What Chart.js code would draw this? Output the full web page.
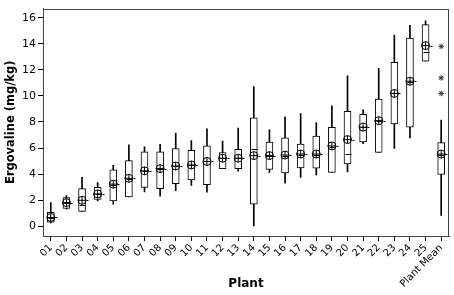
<!DOCTYPE html>
<html>
<head>
<meta charset="utf-8">
<script src="https://cdn.jsdelivr.net/npm/chart.js@4"></script>
<style>
    html, body { margin: 0; padding: 0; background: #fff; }
    #wrap { width: 454px; height: 295px; }
</style>
</head>
<body>
<div id="wrap"><canvas id="ergoChart"></canvas></div>
<script>
// Dados
const plants = ['01', '02', '03', '04', '05', '06', '07', '08', '09', '10', '11', '12', '13',
    '14', '15', '16', '17', '18', '19', '20', '21', '22', '23', '24', '25', 'Plant Mean'];
const whiskerLow = [0.25, 1.3, 1.14, 1.94, 1.69, 2.24, 2.63, 2.31, 2.73, 3.13, 2.61, 4.42, 4.22,
    0.02, 4.12, 3.30, 3.74, 3.93, 4.12, 4.17, 6.33, 5.66, 5.98, 6.78, 12.67, 0.82];
const whiskerHigh = [1.81, 2.36, 3.75, 3.35, 4.67, 6.24, 6.09, 6.28, 7.15, 6.58, 7.47, 6.53, 7.53,
    10.71, 7.40, 8.40, 8.64, 7.96, 9.24, 11.55, 8.94, 12.12, 14.66, 15.42, 15.77, 8.14];
const q1 = [0.32, 1.37, 1.14, 2.06, 1.94, 2.24, 2.98, 2.88, 3.26, 3.55, 3.18, 4.42, 4.42,
    1.69, 4.35, 4.10, 4.48, 4.45, 4.12, 4.79, 6.46, 5.66, 7.85, 7.60, 12.67, 3.97];
const q3 = [1.07, 2.19, 2.88, 2.98, 4.32, 5.04, 5.71, 5.71, 5.96, 5.83, 6.16, 5.66, 5.91,
    8.32, 6.46, 6.78, 6.30, 6.91, 7.58, 8.82, 8.59, 9.76, 12.57, 14.43, 15.47, 6.41];
const medians = [0.62, 1.75, 1.6, 2.45, 3.2, 3.6, 4.2, 4.4, 4.6, 4.7, 5.0, 5.2, 5.2,
    5.9, 5.4, 5.4, 5.5, 5.5, 6.1, 5.54, 7.6, 8.1, 10.2, 11.1, 13.36, 5.5];
const means = [0.67, 1.81, 1.99, 2.48, 3.23, 3.68, 4.25, 4.42, 4.62, 4.70, 4.97, 5.22, 5.22,
    5.42, 5.42, 5.46, 5.54, 5.54, 6.16, 6.65, 7.60, 8.10, 10.19, 11.13, 13.86, 5.54];
const outliers = [13.8, 11.38, 10.19];
const yTicks = [0, 2, 4, 6, 8, 10, 12, 14, 16];

Chart.defaults.font.family = '"DejaVu Sans", sans-serif';
Chart.defaults.color = '#000';

// Medianas, moldura e traço do símbolo de média
const boxExtras = {
    id: 'boxExtras',
    afterDatasetsDraw(chart) {
        const ctx = chart.ctx;
        const x = chart.scales.x;
        const y = chart.scales.y;
        const area = chart.chartArea;
        ctx.save();
        ctx.strokeStyle = '#000';
        ctx.lineWidth = 1;
        plants.forEach(function(p, i) {
            const cx = Math.round(x.getPixelForValue(i)) + 0.5;
            const my = Math.round(y.getPixelForValue(medians[i])) + 0.5;
            ctx.beginPath();
            ctx.moveTo(cx - 3, my);
            ctx.lineTo(cx + 3, my);
            ctx.stroke();
            const ay = Math.round(y.getPixelForValue(means[i])) + 0.5;
            ctx.beginPath();
            ctx.moveTo(cx + 4, ay);
            ctx.lineTo(cx + 6, ay);
            ctx.stroke();
        });
        ctx.strokeStyle = '#444';
        ctx.strokeRect(Math.round(area.left) + 0.5, Math.round(area.top) + 0.5,
            Math.round(area.right - area.left) - 1, Math.round(area.bottom - area.top));
        ctx.restore();
    }
};

new Chart(document.getElementById('ergoChart').getContext('2d'), {
    type: 'bar',
    data: {
        labels: plants,
        datasets: [{
            label: 'mean',
            type: 'line',
            data: means,
            showLine: false,
            pointStyle: 'circle',
            pointRadius: 4,
            pointBorderWidth: 1,
            pointBorderColor: '#000',
            pointBackgroundColor: 'rgba(0,0,0,0)',
            order: 0
        }, {
            label: 'meanCross',
            type: 'line',
            data: means,
            showLine: false,
            pointStyle: 'cross',
            pointRadius: 4,
            pointBorderWidth: 1,
            pointBorderColor: '#000',
            order: 0
        }, {
            label: 'outliers',
            type: 'line',
            data: outliers.map(v => ({ x: 'Plant Mean', y: v })),
            showLine: false,
            pointStyle: 'star',
            pointRadius: 2.8,
            pointBorderWidth: 1,
            pointBorderColor: '#333',
            order: 0
        }, {
            label: 'box',
            data: q1.map((v, i) => [v, q3[i]]),
            backgroundColor: '#fff',
            borderColor: '#000',
            borderWidth: 1,
            borderSkipped: false,
            barThickness: 7,
            grouped: false,
            order: 1
        }, {
            label: 'whisker',
            data: whiskerLow.map((v, i) => [v, whiskerHigh[i]]),
            backgroundColor: '#000',
            borderWidth: 0,
            barThickness: 1,
            grouped: false,
            order: 2
        }]
    },
    options: {
        responsive: true,
        maintainAspectRatio: false,
        animation: false,
        layout: { padding: { left: 0, top: 2, right: 2, bottom: 0 } },
        plugins: {
            legend: { display: false },
            tooltip: { enabled: false }
        },
        scales: {
            x: {
                type: 'category',
                offset: true,
                grid: { offset: false, drawOnChartArea: false, tickLength: 5, color: '#000' },
                border: { color: '#444' },
                ticks: { font: { size: 10 }, maxRotation: 45, minRotation: 45, padding: 1, autoSkip: false },
                title: {
                    display: true,
                    text: 'Plant',
                    font: { size: 12, weight: 'bold' },
                    padding: { top: 0, bottom: 4 }
                },
                afterFit: function(scale) { scale.height = 59; }
            },
            y: {
                min: -0.75,
                max: 16.7,
                grid: { drawOnChartArea: false, tickLength: 5, color: '#000' },
                border: { color: '#444' },
                ticks: { font: { size: 11 }, padding: 2 },
                afterBuildTicks: function(scale) {
                    scale.ticks = yTicks.map(v => ({ value: v }));
                },
                title: {
                    display: true,
                    text: 'Ergovaline (mg/kg)',
                    font: { size: 11.5, weight: 'bold' },
                    padding: { top: 4, bottom: 0 }
                },
                afterFit: function(scale) { scale.width = 43; }
            }
        }
    },
    plugins: [boxExtras]
});
</script>
</body>
</html>
